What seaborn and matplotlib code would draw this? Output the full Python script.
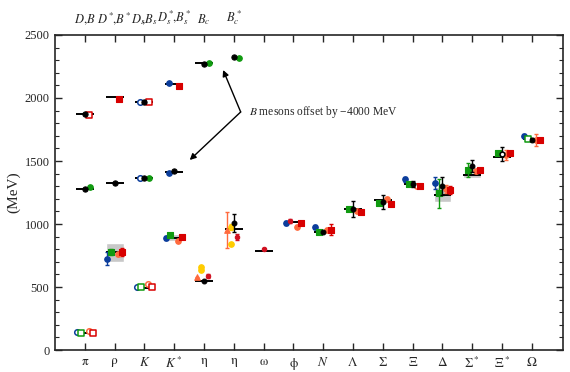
import matplotlib
matplotlib.use("Agg")
import matplotlib.pyplot as plt
import numpy as np
import pandas as pd
import seaborn as sns

# -----------------------------
# DATA (MeV)
# -----------------------------
light_labels = [r"$\mathrm{\pi}$", r"$\mathrm{\rho}$", r"$K$", r"$K^*$", r"$\mathrm{\eta}$",
                r"$\mathrm{\eta}$", r"$\mathrm{\omega}$", r"$\mathrm{\phi}$", r"$N$",
                r"$\Lambda$", r"$\Sigma$", r"$\Xi$", r"$\Delta$", r"$\Sigma^*$", r"$\Xi^*$", r"$\Omega$"]
heavy_labels = [r"$D,\!B$", r"$D^*\!\!,\!B^*$", r"$D_s\!\!,\!B_s$", r"$D_s^*\!\!,\!B_s^*$", r"$B_c$", r"$B_c^*$"]

exp_mass = [138, 775, 495, 892, 548, 958, 783, 1019, 939, 1116, 1193, 1318, 1232, 1385, 1533, 1672]
exp_halfwidth = [0, 75, 0, 25, 0, 0, 4, 2, 0, 0, 0, 0, 59, 18, 5, 0]

charm_pos = [0, 1, 2, 3, 4]
charm_exp = [1869, 2010, 1968, 2112, 2277]
bottom_pos = [0, 1, 2, 3]
bottom_exp = [1279, 1325, 1367, 1415]

# light hadrons, one set per group
blue_pos = [0, 1, 2, 3, 7, 8, 11, 12, 15]
blue_mass = [140, 725, 500, 889, 1008, 976, 1357, 1325, 1701]
blue_err = [0, 50, 0, 15, 15, 15, 20, 45, 10]
blue_open = [0, 2]

green_pos = [0, 1, 2, 3, 8, 9, 10, 11, 12, 13, 14, 15]
green_mass = [137, 778, 500, 910, 936, 1116, 1169, 1320, 1246, 1429, 1566, 1675]
green_err = [0, 25, 0, 10, 15, 15, 15, 0, 115, 55, 15, 10]
green_open = [0, 2, 11]

black_pos = [4, 5, 8, 9, 10, 11, 12, 13, 14, 15]
black_mass = [550, 1008, 939, 1119, 1175, 1315, 1299, 1458, 1556, 1669]
black_err = [0, 75, 0, 60, 58, 25, 71, 49, 53, 10]
black_open = [8]

orange_pos = [0, 1, 2, 3, 7, 8, 9, 10, 11, 12, 13, 14, 15]
orange_mass = [148, 759, 521, 865, 979, 955, 1106, 1196, 1304, 1278, 1421, 1545, 1669]
orange_err = [0, 10, 0, 10, 10, 10, 15, 15, 10, 30, 15, 40, 48]
orange_open = [0, 2, 8, 15]

red_pos = [0, 1, 2, 3, 7, 8, 9, 10, 11, 12, 13, 14, 15]
red_mass = [137, 780, 502, 897, 1008, 955, 1093, 1156, 1304, 1272, 1431, 1561, 1669]
red_err = [0, 30, 0, 10, 10, 45, 10, 10, 10, 30, 10, 10, 10]
red_open = [0, 2, 15]

crimson_pos = [4, 5, 6, 7]
crimson_mass = [585, 897, 799, 1024]
crimson_err = [15, 25, 8, 12]

tri_pos = [4, 5]
tri_mass = [577, 950]
tri_err = [5, 143]

yellow_pos = [4, 4, 5, 5]
yellow_mass = [661, 635, 979, 839]
yellow_err = [8, 8, 25, 8]

# heavy mesons (B mesons already shifted by -4000)
hv_black_pos = [0, 2, 4, 5, 0, 1, 2, 3]
hv_black_mass = [1869, 1968, 2272, 2328, 1280, 1328, 1365, 1418]
hv_red_pos = [0, 1, 2, 3]
hv_red_mass = [1866, 1992, 1968, 2095]
hv_red_open = [0, 2]
hv_blue_pos = [2, 3, 2, 3]
hv_blue_mass = [1968, 2116, 1365, 1407]
hv_blue_open = [0, 2]
hv_green_pos = [4, 5, 0, 2]
hv_green_mass = [2277, 2320, 1291, 1365]

# -----------------------------
# STYLE
# -----------------------------
BLUE = "#0b3d9c"
GREEN = "#109a10"
ORANGE = "#ff6a3d"
RED = "#d80000"
CRIMSON = "#d01020"
YELLOW = "#ffcc00"
crimson_shift = [0.14, 0.12, 0.02, -0.13]

sns.set_theme(style="ticks")
plt.rcParams["font.family"] = ["Liberation Serif", "DejaVu Serif"]
plt.rcParams["mathtext.fontset"] = "stix"

fig = plt.figure(figsize=(5.7, 3.72), dpi=100)
ax = fig.add_axes([0.0965, 0.059, 0.891, 0.847])


def draw(pos, mass, err, color, marker, shift, open_idx=(), size=16, zorder=4):
    xs = np.asarray(pos, dtype=float) + np.asarray(shift)
    ys = np.asarray(mass, dtype=float)
    if err is not None:
        e = np.asarray(err, dtype=float)
        m = e > 0
        if m.any():
            ax.errorbar(xs[m], ys[m], yerr=e[m], fmt="none", ecolor=color,
                        elinewidth=1.0, capsize=1.5, capthick=1.0, zorder=zorder - 1)
    is_open = np.isin(np.arange(len(xs)), list(open_idx))
    df = pd.DataFrame({"x": xs, "y": ys})
    if (~is_open).any():
        sns.scatterplot(data=df[~is_open], x="x", y="y", ax=ax, color=color,
                        edgecolor=color, marker=marker, s=size, linewidth=0.8,
                        zorder=zorder, legend=False)
    if is_open.any():
        sns.scatterplot(data=df[is_open], x="x", y="y", ax=ax, color=color,
                        facecolors="white", edgecolor=color, marker=marker, s=size,
                        linewidth=1.1, zorder=zorder, legend=False)


# experiment: widths (grey) and masses (black lines)
for i, (m, w) in enumerate(zip(exp_mass, exp_halfwidth)):
    if w > 0:
        ax.bar(i, 2 * w, bottom=m - w, width=0.6, color="#c8c8c8", zorder=1)
ax.hlines(exp_mass, np.arange(16) - 0.3, np.arange(16) + 0.3, color="black", lw=1.4, zorder=2)
ax.hlines(charm_exp, np.array(charm_pos) - 0.3, np.array(charm_pos) + 0.3, color="black", lw=1.4, zorder=2)
ax.hlines(bottom_exp, np.array(bottom_pos) - 0.3, np.array(bottom_pos) + 0.3, color="black", lw=1.4, zorder=2)

# light hadrons
draw(blue_pos, blue_mass, blue_err, BLUE, "o", -0.26, blue_open)
draw(green_pos, green_mass, green_err, GREEN, "s", -0.13, green_open)
draw(black_pos, black_mass, black_err, "black", "o", 0.0, black_open, size=12, zorder=6)
draw(orange_pos, orange_mass, orange_err, ORANGE, "o", 0.13, orange_open)
draw(red_pos, red_mass, red_err, RED, "s", 0.26, red_open)
draw(crimson_pos, crimson_mass, crimson_err, CRIMSON, "o", crimson_shift, size=10)
draw(tri_pos, tri_mass, tri_err, ORANGE, "^", -0.24)
draw(yellow_pos, yellow_mass, yellow_err, YELLOW, "o", -0.1)

# heavy mesons
draw(hv_black_pos, hv_black_mass, None, "black", "o", 0.0, size=14, zorder=6)
draw(hv_red_pos, hv_red_mass, None, RED, "s", 0.15, hv_red_open)
draw(hv_blue_pos, hv_blue_mass, None, BLUE, "o", -0.16, hv_blue_open)
draw(hv_green_pos, hv_green_mass, None, GREEN, "o", 0.16)

# annotation
arrow = dict(arrowstyle="-|>", color="black", lw=1.0, mutation_scale=9, shrinkA=0, shrinkB=0)
ax.annotate("", xy=(4.64, 2222), xytext=(5.23, 1889), arrowprops=arrow)
ax.annotate("", xy=(3.52, 1508), xytext=(5.23, 1889), arrowprops=arrow)
ax.text(5.5, 1889, r"$B$ mesons offset by −4000 MeV", fontsize=8.3, va="center", ha="left")

# axes
ax.set_xlim(-1, 16.04)
ax.set_ylim(0, 2500)
ax.set_xticks(range(16))
ax.set_xticklabels(light_labels, fontsize=9.5)
ax.set_yticks(np.arange(0, 2501, 500))
ax.set_yticks(np.arange(0, 2501, 100), minor=True)
ax.tick_params(axis="y", labelsize=9)
ax.tick_params(which="major", direction="in", length=5, width=1.0, top=True, right=True, pad=4)
ax.tick_params(which="minor", direction="in", length=3, width=0.8, right=True)
ax.tick_params(axis="x", which="minor", bottom=False, top=False)
ax.set_ylabel("(MeV)", fontsize=11, labelpad=3)
ax.set_xlabel("")
for sp in ax.spines.values():
    sp.set_linewidth(1.2)
    sp.set_visible(True)

top = ax.secondary_xaxis("top")
top.set_xticks(range(6))
top.set_xticklabels(heavy_labels, fontsize=9)
top.tick_params(length=0, pad=6)
top.spines["top"].set_visible(False)

fig.savefig("out.png", dpi=100)
